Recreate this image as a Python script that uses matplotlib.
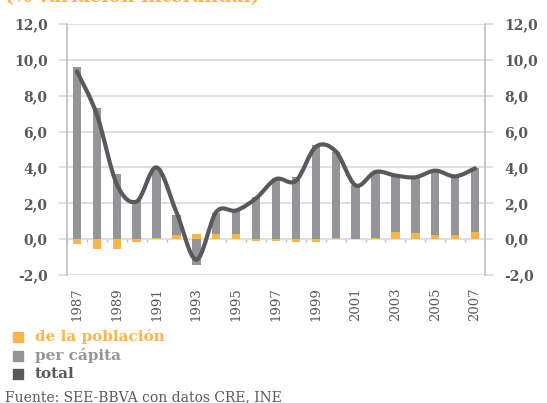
import numpy as np
import matplotlib
matplotlib.use("Agg")
import matplotlib.pyplot as plt
from matplotlib.path import Path
from matplotlib.patches import PathPatch, Rectangle
from matplotlib.ticker import FuncFormatter

# Colores
ORANGE = '#FDB447'
GRAY = '#939598'
DARK = '#58595B'
GRID = '#D9D9D9'
TEXT = '#58595B'

years = list(range(1987, 2008))
poblacion = [-0.28, -0.56, -0.56, -0.15, 0.08, 0.22, 0.30, 0.30, 0.30, -0.10, -0.10,
             -0.15, -0.15, 0.05, 0.02, 0.04, 0.38, 0.33, 0.22, 0.22, 0.38]
per_capita = [9.60, 7.32, 3.63, 2.18, 3.88, 1.12, -1.45, 1.17, 1.28, 2.36, 3.42,
              3.48, 5.25, 4.83, 2.98, 3.68, 3.20, 3.15, 3.58, 3.30, 3.57]
total = [9.35, 6.95, 3.07, 2.10, 4.00, 1.50, -1.15, 1.52, 1.60, 2.28, 3.35,
         3.25, 5.15, 4.90, 3.00, 3.75, 3.55, 3.45, 3.82, 3.50, 3.95]

plt.rcParams['font.family'] = 'DejaVu Serif'

fig = plt.figure(figsize=(5.47, 4.03), dpi=100)
ax = fig.add_axes([67 / 547, 1 - 275 / 403, (485 - 67) / 547, (275 - 24) / 403])

x = np.arange(len(years))
pob = np.array(poblacion)
pc = np.array(per_capita)
# Excel apila positivos con positivos y negativos con negativos
bottom_pc = np.where(np.sign(pob) == np.sign(pc), pob, 0)

ax.bar(x, pob, width=0.42, color=ORANGE, zorder=2)
ax.bar(x, pc, width=0.42, bottom=bottom_pc, color=GRAY, zorder=2)

# linea suavizada (Catmull-Rom -> Bezier), como en Excel
pts = np.column_stack([x, total]).astype(float)
ext = np.vstack([pts[0], pts, pts[-1]])
verts = [pts[0]]
codes = [Path.MOVETO]
for i in range(1, len(ext) - 2):
    p0, p1, p2, p3 = ext[i - 1], ext[i], ext[i + 1], ext[i + 2]
    verts += [p1 + (p2 - p0) / 6, p2 - (p3 - p1) / 6, p2]
    codes += [Path.CURVE4] * 3
ax.add_patch(PathPatch(Path(verts, codes), facecolor='none', edgecolor=DARK,
                       lw=3.0, capstyle='round', joinstyle='round', zorder=3))

ax.set_xlim(-0.5, len(years) - 0.5)
ax.set_ylim(-2, 12)
ax.set_yticks(np.arange(-2, 12.1, 2))
ax.yaxis.set_major_formatter(FuncFormatter(lambda v, p: f"{v:.1f}".replace('.', ',')))
ax.grid(axis='y', color=GRID, lw=1.2, zorder=0)
ax.tick_params(axis='y', which='both', left=True, right=True, labelleft=True, labelright=True,
               length=6, color=GRID, width=1.2, labelsize=10, labelcolor=TEXT, pad=8)
for lab in ax.get_yticklabels():
    lab.set_fontweight('bold')

ax.set_xticks(x[::2])
ax.set_xticklabels([str(y) for y in years[::2]], rotation=90, fontsize=9.5, color=TEXT)
ax.tick_params(axis='x', length=0, pad=9)
ax.vlines(np.arange(-0.5, len(years)), -0.14, 0, color='#BFBFBF', lw=1, zorder=1)

for s in ['top', 'bottom']:
    ax.spines[s].set_visible(False)
for s in ['left', 'right']:
    ax.spines[s].set_color('#BFBFBF')
    ax.spines[s].set_linewidth(1.2)

# titulo cortado arriba
fig.text(5 / 547, 1 - 2.5 / 403, '(% variación interanual)', color=ORANGE,
         fontsize=13.5, fontweight='bold', va='baseline')

# leyenda
legend = [('de la población', ORANGE), ('per cápita', GRAY), ('total', DARK)]
for i, (lab, col) in enumerate(legend):
    yc = 1 - (337 + i * 18.5) / 403
    fig.patches.append(Rectangle((13 / 547, yc - 5 / 403), 10 / 547, 10 / 403,
                                 transform=fig.transFigure, color=col))
    fig.text(35 / 547, yc, lab, color=col, fontsize=11, fontweight='bold', va='center')

fig.text(5 / 547, 1 - 397 / 403, 'Fuente: SEE-BBVA con datos CRE, INE', color=TEXT,
         fontsize=10, va='center')

fig.savefig('out.png', dpi=100)
